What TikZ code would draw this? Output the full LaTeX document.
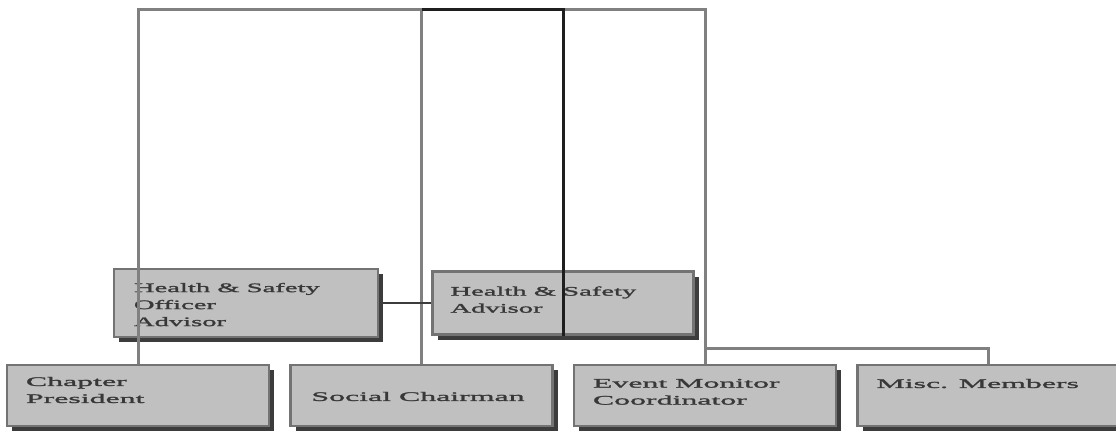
\documentclass[tikz,border=0pt]{standalone}
\usepackage{fontspec}
\setmainfont{Liberation Serif}[FakeStretch=2.2,FakeBold=1.8]
\newfontfamily\widefont{Liberation Serif}[FakeStretch=2.45,FakeBold=1.8]
\usetikzlibrary{positioning,shadows}
\definecolor{boxfill}{HTML}{C0C0C0}
\definecolor{boxline}{HTML}{737373}
\definecolor{shadowgray}{HTML}{3C3C3C}
\definecolor{wiregray}{HTML}{808080}
\definecolor{wiredark}{HTML}{1E1E1E}
\definecolor{textgray}{HTML}{383838}

\begin{document}
\begin{tikzpicture}[x=1pt,y=-1pt,node distance=19pt,font=\fontsize{13}{17}\selectfont,
 role/.style={draw=boxline,line width=2.5pt,fill=boxfill,minimum width=262pt,minimum height=61pt,
  drop shadow={shadow xshift=5pt,shadow yshift=-5pt,fill=shadowgray,opacity=1}},
 roletext/.style={text=textgray,align=left,inner sep=0pt,anchor=north west},
 widetext/.style={roletext,font=\widefont\fontsize{13}{17}\selectfont},
 wire/.style={draw=wiregray,line width=3pt},
 link/.style={draw=wiredark,line width=3pt}]
\useasboundingbox (0,0) rectangle (1116,431);
% bottom row
\node[role,label={[widetext,xshift=20pt,yshift=-13pt]north west:Chapter\\President}] (cp) at (138,395.5) {};
\node[role,right=of cp,label={[widetext,anchor=west,xshift=22pt,yshift=-1pt]west:Social Chairman}] (sc) {};
\node[role,right=of sc,label={[widetext,xshift=20pt,yshift=-15pt]north west:Event Monitor\\Coordinator}] (em) {};
\node[role,right=of em,label={[widetext,xshift=20pt,yshift=-15pt]north west:Misc. Members}] (misc) {};
% health and safety
\node[role,minimum width=264pt,minimum height=68pt,label={[roletext,xshift=21pt,yshift=-15pt]north west:Health \& Safety\\Officer\\Advisor}] (hso) at (246,303) {};
\node[role,right=52pt of hso,minimum width=261pt,minimum height=63pt,label={[roletext,xshift=19pt,yshift=-16pt]north west:Health \& Safety\\Advisor}] (hsa) {};
% connectors
\coordinate (top) at (563,9);
\draw[wire] (cp.north) |- (top) -| (em.north);
\draw[wire] (sc.north) -- (sc.north |- top);
\draw[wire] (em.north) ++(0,-15) -| (misc.north);
\draw[link] (sc.north |- top) -| (hsa.south);
\draw[draw=shadowgray,line width=2pt] (hso) -- (hsa);
\end{tikzpicture}
\end{document}
